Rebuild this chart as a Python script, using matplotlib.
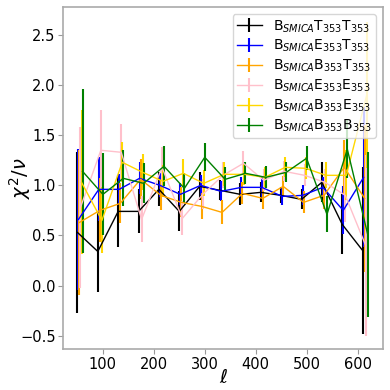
import numpy as np
import matplotlib
matplotlib.use("Agg")
import matplotlib.pyplot as plt

# bin centres in ell
ell = [50, 90, 130, 170, 210, 250, 290, 330, 370, 410, 450, 490, 530, 570, 610]

labels = [r"B$_{SMICA}$T$_{353}$T$_{353}$",
          r"B$_{SMICA}$E$_{353}$T$_{353}$",
          r"B$_{SMICA}$B$_{353}$T$_{353}$",
          r"B$_{SMICA}$E$_{353}$E$_{353}$",
          r"B$_{SMICA}$B$_{353}$E$_{353}$",
          r"B$_{SMICA}$B$_{353}$B$_{353}$"]
colors = ["black", "blue", "orange", "pink", "gold", "green"]

# reduced chi2 per bin
chi_TT = [0.53, 0.34, 0.74, 0.74, 0.96, 0.74, 0.99, 0.95, 0.91, 0.93, 0.90, 0.86, 1.03, 0.61, 0.35]
chi_ET = [0.66, 0.96, 0.96, 1.07, 1.00, 0.91, 1.00, 0.94, 0.98, 0.98, 0.89, 0.90, 0.98, 0.75, 1.08]
chi_BT = [0.63, 0.75, 0.82, 1.06, 0.90, 0.83, 0.79, 0.73, 0.92, 0.87, 0.99, 0.83, 0.90, 1.18, 0.87]
chi_EE = [0.78, 1.35, 1.33, 0.66, 1.18, 0.67, 0.91, 1.10, 1.22, 1.05, 1.14, 1.10, 1.03, 0.90, 0.40]
chi_BE = [1.03, 0.65, 1.23, 1.13, 1.04, 1.12, 1.02, 1.11, 1.11, 1.08, 1.18, 1.17, 1.10, 1.10, 1.90]
chi_BB = [1.14, 0.91, 1.07, 1.02, 1.19, 0.97, 1.28, 1.06, 1.12, 1.08, 1.13, 1.27, 0.71, 1.36, 0.51]

err_TT = [0.80, 0.40, 0.36, 0.22, 0.17, 0.20, 0.14, 0.10, 0.11, 0.10, 0.08, 0.10, 0.20, 0.30, 0.83]
err_ET = [0.70, 0.32, 0.15, 0.16, 0.12, 0.11, 0.10, 0.10, 0.10, 0.10, 0.09, 0.10, 0.10, 0.24, 0.70]
err_BT = [0.72, 0.32, 0.20, 0.20, 0.15, 0.15, 0.13, 0.12, 0.11, 0.11, 0.10, 0.11, 0.14, 0.27, 0.73]
err_EE = [0.80, 0.40, 0.28, 0.23, 0.20, 0.17, 0.15, 0.13, 0.12, 0.11, 0.10, 0.11, 0.13, 0.27, 0.90]
err_BE = [0.72, 0.33, 0.20, 0.18, 0.16, 0.14, 0.13, 0.12, 0.11, 0.10, 0.10, 0.11, 0.13, 0.25, 0.73]
err_BB = [0.82, 0.41, 0.28, 0.20, 0.20, 0.15, 0.14, 0.12, 0.11, 0.11, 0.10, 0.12, 0.18, 0.29, 0.82]

chis = [chi_TT, chi_ET, chi_BT, chi_EE, chi_BE, chi_BB]
errs = [err_TT, err_ET, err_BT, err_EE, err_BE, err_BB]

fig = plt.figure(figsize=(3.9, 3.9), dpi=100)
ax = fig.add_axes([0.162, 0.105, 0.82, 0.877])

for i in range(len(chis)):
    x = np.array(ell) + 2 * i  # small shift so bars don't overlap
    ax.errorbar(x, chis[i], yerr=errs[i], color=colors[i], lw=1,
                elinewidth=1.5, label=labels[i])

ax.set_xlim(22, 650)
ax.set_ylim(-0.634, 2.78)
ax.set_xticks([100, 200, 300, 400, 500, 600])
ax.set_yticks([-0.5, 0.0, 0.5, 1.0, 1.5, 2.0, 2.5])
ax.tick_params(labelsize=10.5, color="#999999", length=3.5, pad=2)
for s in ax.spines.values():
    s.set_color("#aaaaaa")
    s.set_linewidth(1.2)

ax.set_xlabel(r"$\ell$", fontsize=14)
ax.set_ylabel(r"$\chi^2/\nu$", fontsize=14)
ax.xaxis.set_label_coords(0.5, -0.055)
ax.yaxis.set_label_coords(-0.095, 0.5)
ax.legend(loc="upper right", fontsize=10, handlelength=1.8, borderpad=0.3,
          labelspacing=0.25, handletextpad=0.8)

plt.savefig("out.png", dpi=100)
